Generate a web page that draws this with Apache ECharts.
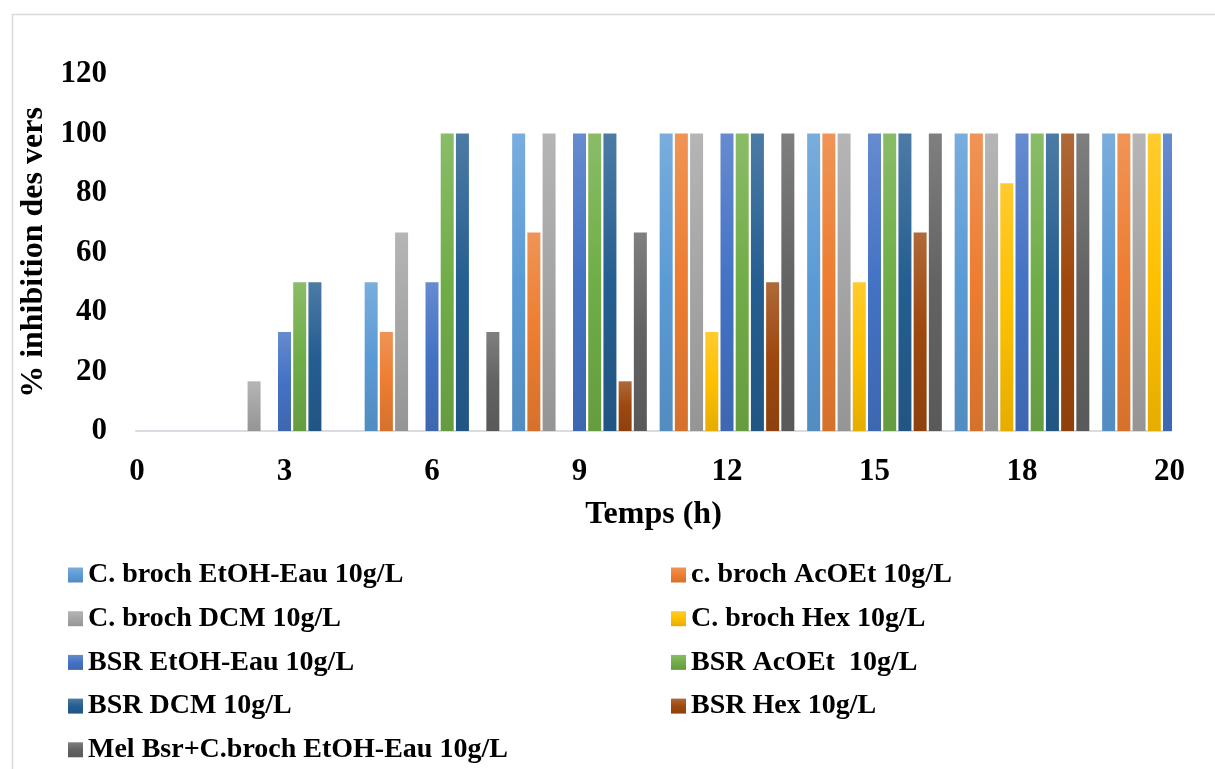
<!DOCTYPE html>
<html>
<head>
<meta charset="utf-8">
<script src="https://cdn.jsdelivr.net/npm/echarts@6/dist/echarts.min.js"></script>
<style>
html,body{margin:0;padding:0;background:#fff;}
#chart{width:1215px;height:769px;}
</style>
</head>
<body>
<div id="chart"></div>
<script>
// ---- data ----
const categories = ['0','3','6','9','12','15','18','20'];
const seriesNames = [
  'C. broch EtOH-Eau 10g/L',
  'c. broch AcOEt 10g/L',
  'C. broch DCM 10g/L',
  'C. broch Hex 10g/L',
  'BSR EtOH-Eau 10g/L',
  'BSR AcOEt  10g/L',
  'BSR DCM 10g/L',
  'BSR Hex 10g/L',
  'Mel Bsr+C.broch EtOH-Eau 10g/L'
];
const cbrochEtOH  = [0, 0, 50, 100, 100, 100, 100, 100];
const cbrochAcOEt = [0, 0, 33.3, 66.7, 100, 100, 100, 100];
const cbrochDCM   = [0, 16.7, 66.7, 100, 100, 100, 100, 100];
const cbrochHex   = [0, 0, 0, 0, 33.3, 50, 83.3, 100];
const bsrEtOH     = [0, 33.3, 50, 100, 100, 100, 100, 100];
const bsrAcOEt    = [0, 50, 100, 100, 100, 100, 100, 100];
const bsrDCM      = [0, 50, 100, 100, 100, 100, 100, 100];
const bsrHex      = [0, 0, 0, 16.7, 50, 66.7, 100, 100];
const melBsr      = [0, 0, 33.3, 66.7, 100, 100, 100, 100];
const yTicks = [0, 20, 40, 60, 80, 100, 120];

const allValues = [cbrochEtOH, cbrochAcOEt, cbrochDCM, cbrochHex, bsrEtOH, bsrAcOEt, bsrDCM, bsrHex, melBsr];
const baseColors = ['#5B9BD5','#ED7D31','#A5A5A5','#FFC000','#4472C4','#70AD47','#255E91','#9E480E','#636363'];

function shade(hex, f) {
  const n = parseInt(hex.slice(1), 16);
  let r = (n >> 16) & 255, g = (n >> 8) & 255, b = n & 255;
  const t = f > 0 ? 255 : 0, p = Math.abs(f);
  r = Math.round(r + (t - r) * p); g = Math.round(g + (t - g) * p); b = Math.round(b + (t - b) * p);
  return 'rgb(' + r + ',' + g + ',' + b + ')';
}
function grad(c) {
  return new echarts.graphic.LinearGradient(0, 0, 0, 1, [
    {offset: 0, color: shade(c, 0.18)},
    {offset: 0.5, color: c},
    {offset: 1, color: shade(c, -0.1)}
  ]);
}

const FONT = "'Liberation Serif', 'Times New Roman', serif";
const chart = echarts.init(document.getElementById('chart'), null, {renderer: 'canvas'});

const series = allValues.map((vals, i) => ({
  name: seriesNames[i],
  type: 'bar',
  xAxisIndex: 0,
  yAxisIndex: 0,
  data: vals,
  barWidth: 13,
  barGap: '17%',
  clip: true,
  itemStyle: {color: grad(baseColors[i])},
  emphasis: {disabled: true},
  animation: false
}));

const legendText = {fontFamily: FONT, fontWeight: 'bold', fontSize: 28, color: '#000', lineHeight: 30};
const yMin = yTicks[0], yMax = yTicks[yTicks.length - 1], yStep = yTicks[1] - yTicks[0];

chart.setOption({
  animation: false,
  backgroundColor: '#fff',
  graphic: [
    {
      type: 'rect', left: 10, top: 12, shape: {width: 1220, height: 780},
      style: {fill: 'none', stroke: '#D9D9D9', lineWidth: 1.5}, silent: true, z: 0
    },
    {
      // plot-area edge mask (the chart is cut at the right edge of the plot)
      type: 'rect', left: 1172, top: 60, shape: {width: 60, height: 374},
      style: {fill: '#fff'}, silent: true, z: 50
    }
  ],
  grid: [
    {left: 63.25, width: 1180, top: 74, bottom: 338, containLabel: false, outerBoundsMode: 'none'},
    {left: 136, right: 44, top: 74, bottom: 338, containLabel: false, outerBoundsMode: 'none'}
  ],
  xAxis: [
    {
      type: 'category',
      gridIndex: 0,
      data: categories,
      boundaryGap: true,
      axisLine: {show: false},
      axisTick: {show: false},
      axisLabel: {interval: 0, fontFamily: FONT, fontWeight: 'bold', fontSize: 31, color: '#000', margin: 25},
      splitLine: {show: false}
    },
    {
      type: 'value',
      gridIndex: 1,
      min: 0, max: 1,
      axisLine: {show: true, lineStyle: {color: '#D9DDE3', width: 2}},
      axisTick: {show: false},
      axisLabel: {show: false},
      splitLine: {show: false},
      name: 'Temps (h)',
      nameLocation: 'middle',
      nameGap: 68,
      nameTextStyle: {fontFamily: FONT, fontWeight: 'bold', fontSize: 32, color: '#000'}
    }
  ],
  yAxis: [
    {
      type: 'value', gridIndex: 0, show: false,
      min: yMin, max: yMax, interval: yStep,
      splitLine: {show: false}
    },
    {
      type: 'value',
      gridIndex: 1,
      min: yMin, max: yMax, interval: yStep,
      axisLine: {show: false},
      axisTick: {show: false},
      splitLine: {show: false},
      axisLabel: {fontFamily: FONT, fontWeight: 'bold', fontSize: 31, color: '#000', margin: 29, padding: [3, 0, 0, 0]},
      name: '% inhibition des vers',
      nameLocation: 'middle',
      nameRotate: 90,
      nameGap: 84,
      nameTextStyle: {fontFamily: FONT, fontWeight: 'bold', fontSize: 32, color: '#000'}
    }
  ],
  legend: [
    {
      orient: 'vertical', left: 68, top: 560, padding: 0, itemWidth: 15, itemHeight: 15, itemGap: 13.7,
      icon: 'rect', textStyle: legendText, selectedMode: false,
      data: [seriesNames[0], seriesNames[2], seriesNames[4], seriesNames[6], seriesNames[8]]
    },
    {
      orient: 'vertical', left: 671, top: 560, padding: 0, itemWidth: 15, itemHeight: 15, itemGap: 13.7,
      icon: 'rect', textStyle: legendText, selectedMode: false,
      data: [seriesNames[1], seriesNames[3], seriesNames[5], seriesNames[7]]
    }
  ],
  series: series
});
</script>
</body>
</html>
